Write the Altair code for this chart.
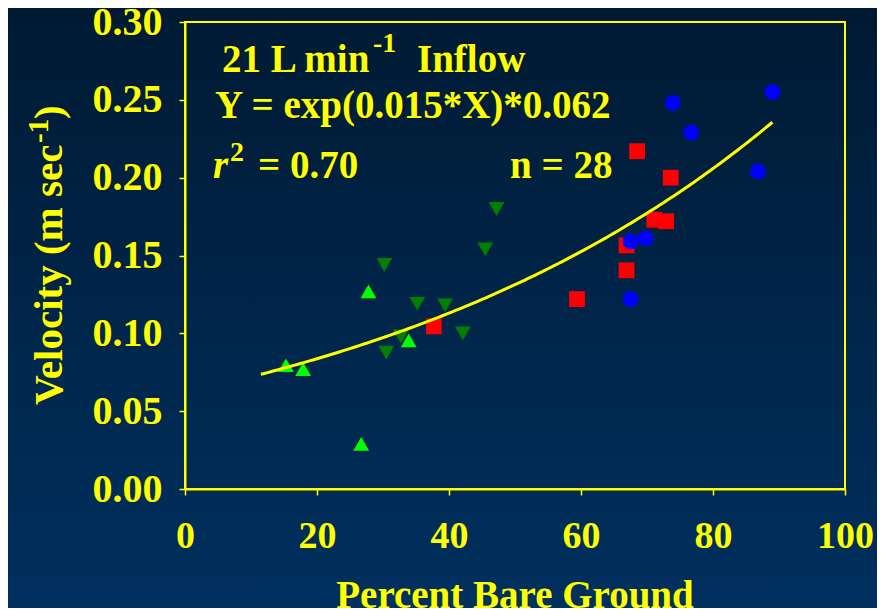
import altair as alt
import pandas as pd

# ---- data ----
up_x = [15.3, 17.9, 27.8, 26.7, 33.9]
up_y = [0.0795, 0.077, 0.127, 0.029, 0.0955]
down_x = [30.2, 30.5, 32.7, 35.2, 39.4, 42.1, 45.5, 47.2]
down_y = [0.144, 0.0876, 0.098, 0.119, 0.118, 0.100, 0.154, 0.180]
square_x = [37.7, 59.4, 66.9, 66.9, 68.5, 73.6, 71.1, 72.9]
square_y = [0.1045, 0.122, 0.1405, 0.1565, 0.217, 0.200, 0.173, 0.172]
circle_x = [67.5, 67.5, 69.8, 73.9, 76.7, 86.8, 89.0]
circle_y = [0.122, 0.159, 0.161, 0.248, 0.229, 0.204, 0.255]

groups = ["up", "down", "square", "circle"]
group_colors = ["#00ff00", "#008000", "#ff0000", "#0000ff"]
group_shapes = ["triangle-up", "triangle-down", "square", "circle"]
group_sizes = [250, 250, 180, 160]

# fitted curve (from the equation printed on the chart)
FIT_A = 0.062
FIT_B = 0.015
FIT_X_START = 11.5
FIT_X_END = 89.0

x_ticks = [0, 20, 40, 60, 80, 100]
y_ticks = [0.0, 0.05, 0.10, 0.15, 0.20, 0.25, 0.30]

rows = []
for g, xs, ys in zip(groups, [up_x, down_x, square_x, circle_x], [up_y, down_y, square_y, circle_y]):
    for xv, yv in zip(xs, ys):
        rows.append({"x": xv, "y": yv, "g": g})
df = pd.DataFrame(rows)

W, H = 660, 467
PAD_L, PAD_T = 177, 14
CW, CH = 869, 600
FONT = "Liberation Serif"
YEL = "#ffff00"

xscale = alt.Scale(domain=[0, 100], nice=False)
yscale = alt.Scale(domain=[0, 0.30], nice=False)

bg = alt.Chart(pd.DataFrame({"a": [0]})).mark_rect(
    fill=alt.Gradient(
        gradient="linear",
        stops=[alt.GradientStop(color="#001a33", offset=0),
               alt.GradientStop(color="#00305f", offset=1)],
        x1=0, x2=0, y1=0, y2=1,
    )
).encode(
    x=alt.value(-PAD_L), x2=alt.value(CW - PAD_L),
    y=alt.value(-PAD_T), y2=alt.value(CH - PAD_T),
)

frame = alt.Chart(pd.DataFrame({"a": [0]})).mark_rect(
    fillOpacity=0, stroke=YEL, strokeWidth=2
).encode(x=alt.value(0), x2=alt.value(W), y=alt.value(0), y2=alt.value(H))

points = alt.Chart(df).mark_point(filled=True, opacity=1).encode(
    x=alt.X("x:Q", scale=xscale,
            axis=alt.Axis(values=x_ticks, title=None, format="d", labelPadding=22,
                          labelFontSize=38, labelFlush=False, zindex=2)),
    y=alt.Y("y:Q", scale=yscale,
            axis=alt.Axis(values=y_ticks, title=None, format=".2f", labelPadding=17,
                          labelFontSize=40, labelFlush=False, zindex=2)),
    color=alt.Color("g:N", scale=alt.Scale(domain=groups, range=group_colors), legend=None),
    shape=alt.Shape("g:N", scale=alt.Scale(domain=groups, range=group_shapes), legend=None),
    size=alt.Size("g:N", scale=alt.Scale(domain=groups, range=group_sizes), legend=None),
)

curve = alt.Chart(alt.sequence(FIT_X_START, FIT_X_END + 0.01, 0.5, as_="x")).transform_calculate(
    y=f"exp({FIT_B}*datum.x)*{FIT_A}"
).mark_line(color=YEL, strokeWidth=3).encode(
    x=alt.X("x:Q", scale=xscale), y=alt.Y("y:Q", scale=yscale)
)


def txt(s, px, py, size=39, italic=False, angle=0, align="left"):
    kw = dict(font=FONT, fontWeight="bold", fontSize=size, color=YEL,
              align=align, baseline="alphabetic")
    if italic:
        kw["fontStyle"] = "italic"
    if angle:
        kw["angle"] = angle
    return alt.Chart(pd.DataFrame({"a": [0]})).mark_text(**kw).encode(
        x=alt.value(px), y=alt.value(py), text=alt.value(s))


texts = [
    txt("21 L min", 37, 50),
    txt("-1", 188, 30, size=28),
    txt("Inflow", 232, 50),
    txt("Y = exp(0.015*X)*0.062", 30, 96),
    txt("r", 28, 156, italic=True),
    txt("2", 45, 139, size=28),
    txt("= 0.70", 73, 156),
    txt("n = 28", 325, 156),
    txt("Percent Bare Ground", W / 2, 586, align="center"),
    txt("Velocity (m sec", -123, 383, size=41, angle=270),
    txt("-1", -137, 383 - 262, size=29, angle=270),
    txt(")", -123, 383 - 262 - 24, size=41, angle=270),
]

chart = alt.layer(bg, frame, points, curve, *texts).properties(
    width=W, height=H,
    autosize=alt.AutoSizeParams(type="none"),
    padding={"left": PAD_L, "top": PAD_T, "right": CW - PAD_L - W, "bottom": CH - PAD_T - H},
    background="#00264a",
).configure_view(stroke=None).configure_axis(
    domainColor=YEL, domainWidth=2, tickColor=YEL, tickWidth=1.5, tickSize=6,
    labelColor=YEL, labelFont=FONT, labelFontWeight="bold",
    grid=False, zindex=2,
)

chart.save("out.html", embed_options={"renderer": "svg", "actions": False})
